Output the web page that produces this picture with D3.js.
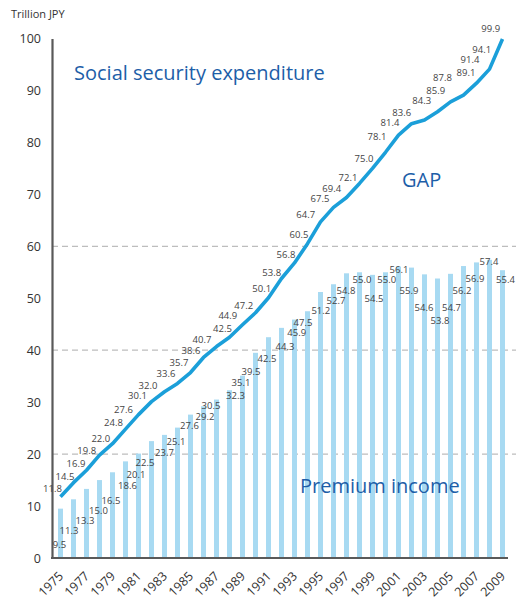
<!DOCTYPE html>
<html>
  <head>
    <script type="text/javascript" src="https://cdn.jsdelivr.net/npm/d3@7"></script>
    <style>
      body { margin: 0; background: #fff; }
      text { font-family: "Open Sans", sans-serif; }
    </style>
  </head>
  <body>
    <script type="text/javascript">
      var w = 516;
      var h = 601;

      // data (trillion JPY)
      var years = [1975, 1976, 1977, 1978, 1979, 1980, 1981, 1982, 1983, 1984,
                   1985, 1986, 1987, 1988, 1989, 1990, 1991, 1992, 1993, 1994,
                   1995, 1996, 1997, 1998, 1999, 2000, 2001, 2002, 2003, 2004,
                   2005, 2006, 2007, 2008, 2009];
      var expenditure = [11.8, 14.5, 16.9, 19.8, 22.0, 24.8, 27.6, 30.1, 32.0, 33.6,
                         35.7, 38.6, 40.7, 42.5, 44.9, 47.2, 50.1, 53.8, 56.8, 60.5,
                         64.7, 67.5, 69.4, 72.1, 75.0, 78.1, 81.4, 83.6, 84.3, 85.9,
                         87.8, 89.1, 91.4, 94.1, 99.9];
      var premium = [9.5, 11.3, 13.3, 15.0, 16.5, 18.6, 20.1, 22.5, 23.7, 25.1,
                     27.6, 29.2, 30.5, 32.3, 35.1, 39.5, 42.5, 44.3, 45.9, 47.5,
                     51.2, 52.7, 54.8, 55.0, 54.5, 55.0, 56.1, 55.9, 54.6, 53.8,
                     54.7, 56.2, 56.9, 57.4, 55.4];
      var yTicks = [0, 10, 20, 30, 40, 50, 60, 70, 80, 90, 100];
      var gridValues = [20, 40, 60];
      var yearTicks = [1975, 1977, 1979, 1981, 1983, 1985, 1987, 1989, 1991, 1993,
                       1995, 1997, 1999, 2001, 2003, 2005, 2007, 2009];

      // hand placement of the value labels in the original (px offsets from the point)
      var expDx = [-8, -8.5, -10.5, -12.8, -11.7, -12, -15, -14, -16.5, -11.5,
                   -11.5, -12.5, -14.5, -7, -14.7, -11.8, -6.8, -9.8, -8.5, -8.5,
                   -14.8, -13.5, -14.8, -11.5, -8.5, -8.5, -8.5, -9.8, -2.8, -1.8,
                   -8, 2.5, -6.5, -7.8, -11.8];
      var expDy = [-8.4, -5.9, -6.2, -4.4, -5.4, -6.4, -5.3, -5.6, -5.7, -9.4,
                   -9.8, -6.7, -7.2, -8.8, -9, -7, -9.3, -6.1, -8.8, -9.3,
                   -6.8, -8.9, -9, -5.6, -9.9, -15.4, -12.3, -10.8, -19.9, -21.6,
                   -24, -22.7, -23.7, -20, -10.5];
      var premDx = [-1, -4.5, -1.5, -1, -1.5, 2, -2.5, -6.5, 0, -1.5,
                    -1, 1.5, -5.5, 6, -1.5, -4.5, -1.5, 3.5, 2.2, -4.5,
                    0.3, 2.5, -0.5, 2.5, 1.5, 1.2, 0.5, -2.5, -0.5, 2.5,
                    1, -1.5, -1.5, -0.5, 3];
      var premDy = [36.4, 31.4, 31.8, 30.7, 28.4, 24.7, 21.5, 21.7, 17.9, 14.1,
                    11.4, 10.5, 6.2, 4.9, 7.4, 19, 20.9, 18.9, 12.8, 11.6,
                    18.1, 15.9, 16.8, 7.8, 24.2, 7.8, 3.5, 23.2, 33.4, 42.3,
                    34, 24.8, 16.4, 2, 9.9];

      var xScale = d3.scalePoint()
        .domain(years)
        .range([60.5, 502.5]);
      var yScale = d3.scaleLinear()
        .domain([0, 100])
        .range([558, 38.5]);

      var svg = d3.select("body").append("svg")
        .attr("width", w)
        .attr("height", h);

      // dashed gridlines
      svg.selectAll(".grid")
        .data(gridValues)
        .enter()
        .append("line")
        .attr("x1", 52)
        .attr("x2", w)
        .attr("y1", d => yScale(d))
        .attr("y2", d => yScale(d))
        .attr("stroke", "#bdbdbd")
        .attr("stroke-width", 1.3)
        .attr("stroke-dasharray", "6,4");

      // premium income bars
      var barW = 5;
      svg.selectAll(".bar")
        .data(years)
        .enter()
        .append("rect")
        .attr("x", d => xScale(d) - barW / 2)
        .attr("y", (d, i) => yScale(premium[i]))
        .attr("width", barW)
        .attr("height", (d, i) => yScale(0) - yScale(premium[i]))
        .attr("fill", "#a8daf2");

      // social security expenditure line
      var line = d3.line()
        .x((d, i) => xScale(years[i]))
        .y(d => yScale(d));
      svg.append("path")
        .datum(expenditure)
        .attr("d", line)
        .attr("fill", "none")
        .attr("stroke", "#1b9fd9")
        .attr("stroke-width", 3.6)
        .attr("stroke-linejoin", "round");

      // y axis
      var yAxis = d3.axisLeft(yScale)
        .tickValues(yTicks)
        .tickSize(0)
        .tickSizeOuter(0)
        .tickPadding(11);
      var gy = svg.append("g")
        .attr("transform", "translate(52,0)")
        .call(yAxis);
      gy.select(".domain").attr("stroke", "#595959").attr("stroke-width", 2.2);
      gy.selectAll("text")
        .attr("font-size", "12.5px")
        .attr("fill", "#333")
        .style("font-family", "'Open Sans', sans-serif");

      // x axis
      var xAxis = d3.axisBottom(xScale)
        .tickValues(yearTicks)
        .tickSize(0)
        .tickSizeOuter(0);
      var gx = svg.append("g")
        .attr("transform", "translate(0," + yScale(0) + ")")
        .call(xAxis);
      gx.select(".domain").remove();
      gx.selectAll("text")
        .attr("x", 0)
        .attr("y", 0)
        .attr("dy", null)
        .attr("transform", "translate(3,19) rotate(-45)")
        .attr("text-anchor", "end")
        .attr("font-size", "12.5px")
        .attr("fill", "#333")
        .style("font-family", "'Open Sans', sans-serif");
      svg.append("line")
        .attr("x1", 51)
        .attr("x2", 508)
        .attr("y1", yScale(0))
        .attr("y2", yScale(0))
        .attr("stroke", "#595959")
        .attr("stroke-width", 2.2);

      // value labels
      svg.selectAll(".explabel")
        .data(expenditure)
        .enter()
        .append("text")
        .text(d => d.toFixed(1))
        .attr("x", (d, i) => xScale(years[i]) + expDx[i])
        .attr("y", (d, i) => yScale(d) + expDy[i] + 3.4)
        .attr("text-anchor", "middle")
        .attr("font-size", "9.5px")
        .attr("fill", "#444");
      svg.selectAll(".premlabel")
        .data(premium)
        .enter()
        .append("text")
        .text(d => d.toFixed(1))
        .attr("x", (d, i) => xScale(years[i]) + premDx[i])
        .attr("y", (d, i) => yScale(d) + premDy[i] + 3.4)
        .attr("text-anchor", "middle")
        .attr("font-size", "9.5px")
        .attr("fill", "#444");

      // titles
      svg.append("text")
        .text("Trillion JPY")
        .attr("x", 11)
        .attr("y", 18)
        .attr("font-size", "11px")
        .attr("fill", "#333");
      var blue = "#1d5ea8";
      svg.append("text")
        .text("Social security expenditure")
        .attr("x", 74)
        .attr("y", 80)
        .attr("font-size", "20px")
        .attr("fill", blue);
      svg.append("text")
        .text("GAP")
        .attr("x", 402)
        .attr("y", 187)
        .attr("font-size", "20px")
        .attr("fill", blue);
      svg.append("text")
        .text("Premium income")
        .attr("x", 300)
        .attr("y", 493)
        .attr("font-size", "20px")
        .attr("fill", blue);
    </script>
  </body>
</html>
